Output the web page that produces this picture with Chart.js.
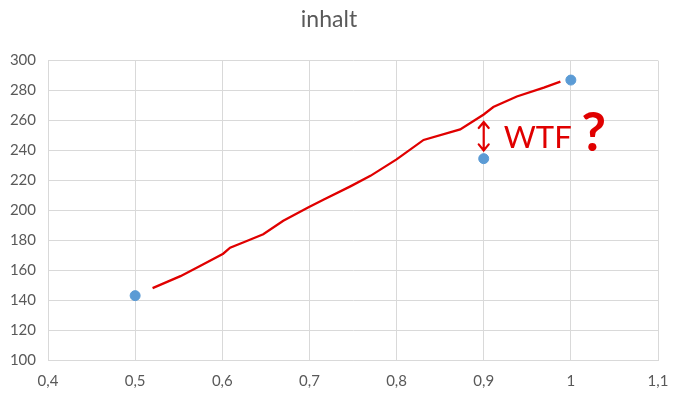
<!DOCTYPE html>
<html>
<head>
<meta charset="utf-8">
<script src="https://cdn.jsdelivr.net/npm/chart.js@4/dist/chart.umd.min.js"></script>
<style>
  html, body { margin: 0; padding: 0; background: #fff; }
  #box { width: 676px; height: 401px; }
</style>
</head>
<body>
<div id="box"><canvas id="scatterChart"></canvas></div>
<script>
// measured points
var xValues = [0.5, 0.9, 1.0];
var yValues = [143, 234.5, 287];

// red hand drawn line
var redX = [0.52, 0.552, 0.575, 0.601, 0.609, 0.626, 0.647, 0.670, 0.699, 0.716, 0.747, 0.770, 0.800, 0.831, 0.873, 0.900, 0.911, 0.938, 0.969, 0.988];
var redY = [148, 156, 163, 171, 175, 179, 184, 193, 202, 207, 216, 223, 234, 247, 254, 264, 269, 276, 282, 286];

var xTicks = [0.4, 0.5, 0.6, 0.7, 0.8, 0.9, 1.0, 1.1];
var chartTitle = "inhalt";
var noteText = "WTF";

var font = "Lato, 'Liberation Sans', sans-serif";
var gray = "#595959";

function toPoints(xs, ys){
    var out = [];
    for (var i = 0; i < xs.length; i++) out.push({x: xs[i], y: ys[i]});
    return out;
}

// red scribble: arrow, text and question mark
var notePlugin = {
    id: 'note',
    afterDatasetsDraw: function(chart){
        var c = chart.ctx, xs = chart.scales.x, ys = chart.scales.y;
        var ax = xs.getPixelForValue(0.9);
        var top = ys.getPixelForValue(259), bot = ys.getPixelForValue(240);
        c.save();
        c.strokeStyle = '#e00000';
        c.fillStyle = '#e00000';
        c.lineWidth = 2.2;
        c.lineCap = 'round';
        c.beginPath();
        c.moveTo(ax, top); c.lineTo(ax, bot);
        c.moveTo(ax - 5, top + 6); c.lineTo(ax, top); c.lineTo(ax + 5, top + 6);
        c.moveTo(ax - 5, bot - 6); c.lineTo(ax, bot); c.lineTo(ax + 5, bot - 6);
        c.stroke();
        c.font = "31px " + font;
        c.textAlign = 'left';
        c.textBaseline = 'middle';
        c.fillText(noteText, xs.getPixelForValue(0.923), ys.getPixelForValue(248));
        c.font = "bold 54px " + font;
        c.fillText("?", xs.getPixelForValue(1.012), ys.getPixelForValue(251));
        c.restore();
    }
};

window.onload = function(){
    var ctx = document.getElementById("scatterChart").getContext('2d');
    var myChart = new Chart(ctx, {
        type: 'scatter',
        data: {
            datasets: [{
                label: 'Werte',
                data: toPoints(xValues, yValues),
                backgroundColor: '#5b9bd5',
                borderColor: '#5b9bd5',
                pointRadius: 5,
                pointHoverRadius: 5
            }, {
                label: 'Linie',
                data: toPoints(redX, redY),
                showLine: true,
                borderColor: '#e00000',
                borderWidth: 2.3,
                pointRadius: 0,
                tension: 0
            }]
        },
        options: {
            responsive: true,
            maintainAspectRatio: false,
            animation: false,
            layout: { padding: { left: 0, right: 18, top: 0, bottom: 0 } },
            plugins: {
                legend: { display: false },
                tooltip: { enabled: false },
                title: {
                    display: true,
                    text: chartTitle,
                    color: gray,
                    font: { family: font, size: 23, weight: 'normal' },
                    padding: { top: 6, bottom: 27 }
                }
            },
            scales: {
                x: {
                    type: 'linear',
                    min: 0.4,
                    max: 1.1,
                    afterBuildTicks: function(s){
                        s.ticks = xTicks.map(function(v){ return {value: v}; });
                    },
                    afterFit: function(s){
                        s.height = 41;
                        s.paddingRight = 0;
                        s.paddingLeft = 0;
                    },
                    grid: { color: '#d9d9d9', drawTicks: false },
                    border: { color: '#d9d9d9' },
                    ticks: {
                        color: gray,
                        padding: 12,
                        font: { family: font, size: 15 },
                        callback: function(v){
                            return String(Number(v.toFixed(1))).replace('.', ',');
                        }
                    }
                },
                y: {
                    min: 100,
                    max: 300,
                    afterFit: function(s){ s.width = 48; },
                    grid: { color: '#d9d9d9', drawTicks: false },
                    border: { color: '#d9d9d9' },
                    ticks: {
                        stepSize: 20,
                        color: gray,
                        padding: 12,
                        font: { family: font, size: 15 }
                    }
                }
            }
        },
        plugins: [notePlugin]
    });
}
</script>
</body>
</html>
